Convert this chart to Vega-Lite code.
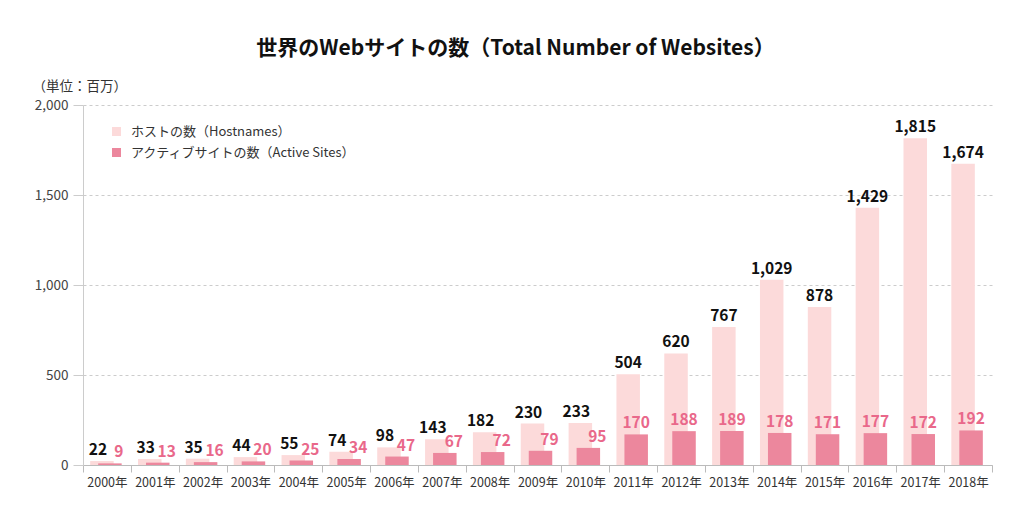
{
  "$schema": "https://vega.github.io/schema/vega-lite/v6.json",
  "autosize": "none",
  "width": 909,
  "height": 360,
  "padding": {"left": 83, "top": 105, "right": 32, "bottom": 62},
  "background": "white",
  "config": {"font": "Noto Sans CJK JP", "view": {"stroke": null}},
  "title": {"text": "世界のWebサイトの数（Total Number of Websites）", "fontSize": 21, "fontWeight": "bold", "color": "#111", "anchor": "middle", "dx": -22, "offset": 20},
  "data": {"values": [
    {"year": "2000年", "hostnames": 22, "active": 9},
    {"year": "2001年", "hostnames": 33, "active": 13},
    {"year": "2002年", "hostnames": 35, "active": 16},
    {"year": "2003年", "hostnames": 44, "active": 20},
    {"year": "2004年", "hostnames": 55, "active": 25},
    {"year": "2005年", "hostnames": 74, "active": 34},
    {"year": "2006年", "hostnames": 98, "active": 47},
    {"year": "2007年", "hostnames": 143, "active": 67},
    {"year": "2008年", "hostnames": 182, "active": 72},
    {"year": "2009年", "hostnames": 230, "active": 79},
    {"year": "2010年", "hostnames": 233, "active": 95},
    {"year": "2011年", "hostnames": 504, "active": 170},
    {"year": "2012年", "hostnames": 620, "active": 188},
    {"year": "2013年", "hostnames": 767, "active": 189},
    {"year": "2014年", "hostnames": 1029, "active": 178},
    {"year": "2015年", "hostnames": 878, "active": 171},
    {"year": "2016年", "hostnames": 1429, "active": 177},
    {"year": "2017年", "hostnames": 1815, "active": 172},
    {"year": "2018年", "hostnames": 1674, "active": 192}
  ]},
  "encoding": {
    "x": {"field": "year", "type": "ordinal", "sort": null,
      "scale": {"paddingInner": 0, "paddingOuter": 0},
      "axis": {"title": null, "labelAngle": 0, "labelFontSize": 12.5, "labelColor": "#333", "labelPadding": 4,
        "tickBand": "extent", "tickSize": 7, "tickColor": "#bbb", "domainColor": "#bbb", "grid": false}}
  },
  "layer": [
    {
      "mark": {"type": "bar", "width": 23.5, "xOffset": -5},
      "encoding": {
        "y": {"field": "hostnames", "type": "quantitative",
          "scale": {"domain": [0, 2000], "nice": false},
          "axis": {"title": "（単位：百万）", "titleAngle": 0, "titleAlign": "left", "titleBaseline": "middle",
            "titleX": -51, "titleY": -19, "titleFontSize": 13.5, "titleFontWeight": "normal", "titleColor": "#333",
            "values": [0, 500, 1000, 1500, 2000], "format": ",.0f", "labelFontSize": 13.5, "labelColor": "#444",
            "labelPadding": 5, "tickSize": 10, "tickColor": "#ccc", "domainColor": "#ccc",
            "gridColor": "#ccc", "gridDash": [3, 3]}},
        "color": {"datum": "ホストの数（Hostnames）", "type": "nominal",
          "scale": {"domain": ["ホストの数（Hostnames）", "アクティブサイトの数（Active Sites）"], "range": ["#fcdada", "#ec879d"]},
          "legend": {"orient": "none", "legendX": 27, "legendY": 20, "title": null, "symbolType": "square",
            "symbolSize": 81, "symbolStrokeWidth": 0, "labelFontSize": 13, "labelColor": "#333", "rowPadding": 7,
            "labelOffset": 8, "labelLimit": 400}}
      }
    },
    {
      "mark": {"type": "bar", "width": 23.5, "xOffset": 3},
      "encoding": {
        "y": {"field": "active", "type": "quantitative"},
        "color": {"datum": "アクティブサイトの数（Active Sites）", "type": "nominal"}
      }
    },
    {
      "transform": [{"filter": "datum.hostnames < 300"}],
      "mark": {"type": "text", "fontSize": 15.5, "fontWeight": "bold", "color": "#111", "baseline": "alphabetic", "dy": -6, "xOffset": -9},
      "encoding": {"y": {"field": "hostnames", "type": "quantitative"}, "text": {"field": "hostnames", "type": "quantitative", "format": ",.0f"}}
    },
    {
      "transform": [{"filter": "datum.hostnames >= 300"}],
      "mark": {"type": "text", "fontSize": 15.5, "fontWeight": "bold", "color": "#111", "baseline": "alphabetic", "dy": -6, "xOffset": -5},
      "encoding": {"y": {"field": "hostnames", "type": "quantitative"}, "text": {"field": "hostnames", "type": "quantitative", "format": ",.0f"}}
    },
    {
      "transform": [{"filter": "datum.hostnames < 300"}],
      "mark": {"type": "text", "fontSize": 15.5, "fontWeight": "bold", "color": "#e9688a", "baseline": "alphabetic", "dy": -6, "xOffset": 12},
      "encoding": {"y": {"field": "active", "type": "quantitative"}, "text": {"field": "active", "type": "quantitative", "format": ",.0f"}}
    },
    {
      "transform": [{"filter": "datum.hostnames >= 300"}],
      "mark": {"type": "text", "fontSize": 15.5, "fontWeight": "bold", "color": "#e9688a", "baseline": "alphabetic", "dy": -6, "xOffset": 3},
      "encoding": {"y": {"field": "active", "type": "quantitative"}, "text": {"field": "active", "type": "quantitative", "format": ",.0f"}}
    }
  ]
}
